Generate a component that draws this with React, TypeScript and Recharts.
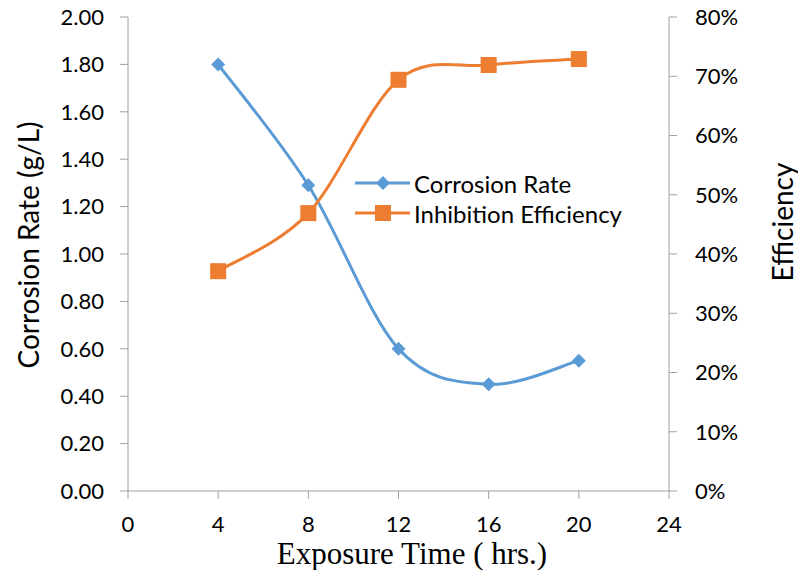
import { LineChart, Line, XAxis, YAxis } from 'recharts';

const hours = [4, 8, 12, 16, 20];
const corrosionRate = [1.8, 1.29, 0.6, 0.45, 0.55];
const inhibitionEfficiency = [37.1, 46.9, 69.4, 71.9, 72.9];

const xTicks = [0, 4, 8, 12, 16, 20, 24];
const rateTicks = [0, 0.2, 0.4, 0.6, 0.8, 1.0, 1.2, 1.4, 1.6, 1.8, 2.0];
const effTicks = [0, 10, 20, 30, 40, 50, 60, 70, 80];

const data = hours.map((h, i) => ({
  hours: h,
  rate: corrosionRate[i],
  eff: inhibitionEfficiency[i],
}));

const BLUE = '#5B9BD5';
const ORANGE = '#ED7D31';
const AXIS = '#A0A0A0';
const FONT = 'Lato, "Open Sans", sans-serif';

// Excel-like smoothed line (Catmull-Rom style bezier)
function excelCurve(context: any) {
  let xs: number[] = [];
  let ys: number[] = [];
  return {
    areaStart() {},
    areaEnd() {},
    lineStart() {
      xs = [];
      ys = [];
    },
    lineEnd() {
      const n = xs.length;
      if (!n) return;
      context.moveTo(xs[0], ys[0]);
      for (let i = 0; i < n - 1; i++) {
        const x0 = i > 0 ? xs[i - 1] : xs[i];
        const y0 = i > 0 ? ys[i - 1] : ys[i];
        const x3 = i + 2 < n ? xs[i + 2] : xs[i + 1];
        const y3 = i + 2 < n ? ys[i + 2] : ys[i + 1];
        context.bezierCurveTo(
          xs[i] + (xs[i + 1] - x0) / 6,
          ys[i] + (ys[i + 1] - y0) / 6,
          xs[i + 1] - (x3 - xs[i]) / 6,
          ys[i + 1] - (y3 - ys[i]) / 6,
          xs[i + 1],
          ys[i + 1]
        );
      }
    },
    point(x: number, y: number) {
      xs.push(+x);
      ys.push(+y);
    },
  };
}

const Diamond = (props: any) => {
  const { cx, cy, index } = props;
  if (cx == null || cy == null) return <g key={index} />;
  const r = 7;
  return (
    <polygon
      key={index}
      points={`${cx},${cy - r} ${cx + r},${cy} ${cx},${cy + r} ${cx - r},${cy}`}
      fill={BLUE}
    />
  );
};

const Square = (props: any) => {
  const { cx, cy, index } = props;
  if (cx == null || cy == null) return <g key={index} />;
  return <rect key={index} x={cx - 8} y={cy - 8} width={16} height={16} fill={ORANGE} />;
};

const legendItems = [
  { label: 'Corrosion Rate', color: BLUE, shape: 'diamond' },
  { label: 'Inhibition Efficiency', color: ORANGE, shape: 'square' },
];

const ChartLegend = () => (
  <g>
    {legendItems.map((it, i) => {
      const y = 183 + i * 30;
      return (
        <g key={it.label}>
          <line x1={355} y1={y} x2={410} y2={y} stroke={it.color} strokeWidth={3} />
          {it.shape === 'diamond' ? (
            <polygon points={`383,${y - 7} 390,${y} 383,${y + 7} 376,${y}`} fill={it.color} />
          ) : (
            <rect x={375} y={y - 8} width={16} height={16} fill={it.color} />
          )}
          <text x={414} y={y} dominantBaseline="central" fontFamily={FONT} fontSize={24} fill="#000">
            {it.label}
          </text>
        </g>
      );
    })}
  </g>
);

export default function App() {
  return (
    <div style={{ position: 'absolute', left: 0, top: 0, width: 798, height: 570, background: '#fff' }}>
      <LineChart
        width={798}
        height={570}
        data={data}
        margin={{ top: 17, right: 49, bottom: 49, left: 48 }}
      >
        <XAxis
          dataKey="hours"
          type="number"
          domain={[0, 24]}
          ticks={xTicks}
          interval={0}
          stroke={AXIS}
          tickSize={8}
          tickMargin={17}
          height={30}
          tick={{ fill: '#000', fontSize: 22, fontFamily: FONT }}
        />
        <YAxis
          yAxisId="left"
          domain={[0, 2]}
          ticks={rateTicks}
          interval={0}
          width={80}
          stroke={AXIS}
          tickSize={8}
          tickMargin={16}
          tickFormatter={(v: number) => v.toFixed(2)}
          tick={{ fill: '#000', fontSize: 22, fontFamily: FONT }}
        />
        <YAxis
          yAxisId="right"
          orientation="right"
          domain={[0, 80]}
          ticks={effTicks}
          interval={0}
          width={80}
          stroke={AXIS}
          tickSize={8}
          tickMargin={18}
          tickFormatter={(v: number) => `${v}%`}
          tick={{ fill: '#000', fontSize: 22, fontFamily: FONT, textAnchor: 'start' }}
        />
        <Line
          yAxisId="left"
          dataKey="rate"
          name="Corrosion Rate"
          type={excelCurve as any}
          stroke={BLUE}
          strokeWidth={3}
          dot={Diamond}
          activeDot={false}
          isAnimationActive={false}
        />
        <Line
          yAxisId="right"
          dataKey="eff"
          name="Inhibition Efficiency"
          type={excelCurve as any}
          stroke={ORANGE}
          strokeWidth={3}
          dot={Square}
          activeDot={false}
          isAnimationActive={false}
        />
        <ChartLegend />
        <text
          x={28}
          y={245}
          transform="rotate(-90 28 245)"
          textAnchor="middle"
          dominantBaseline="central"
          fontFamily={FONT}
          fontSize={28}
          fill="#000"
        >
          Corrosion Rate (g/L)
        </text>
        <text
          x={782}
          y={222}
          transform="rotate(-90 782 222)"
          textAnchor="middle"
          dominantBaseline="central"
          fontFamily={FONT}
          fontSize={28}
          fill="#000"
        >
          Efficiency
        </text>
        <text
          x={412}
          y={553}
          textAnchor="middle"
          dominantBaseline="central"
          fontFamily='"Liberation Serif", "Times New Roman", serif'
          fontSize={31}
          fill="#000"
        >
          Exposure Time ( hrs.)
        </text>
      </LineChart>
    </div>
  );
}
